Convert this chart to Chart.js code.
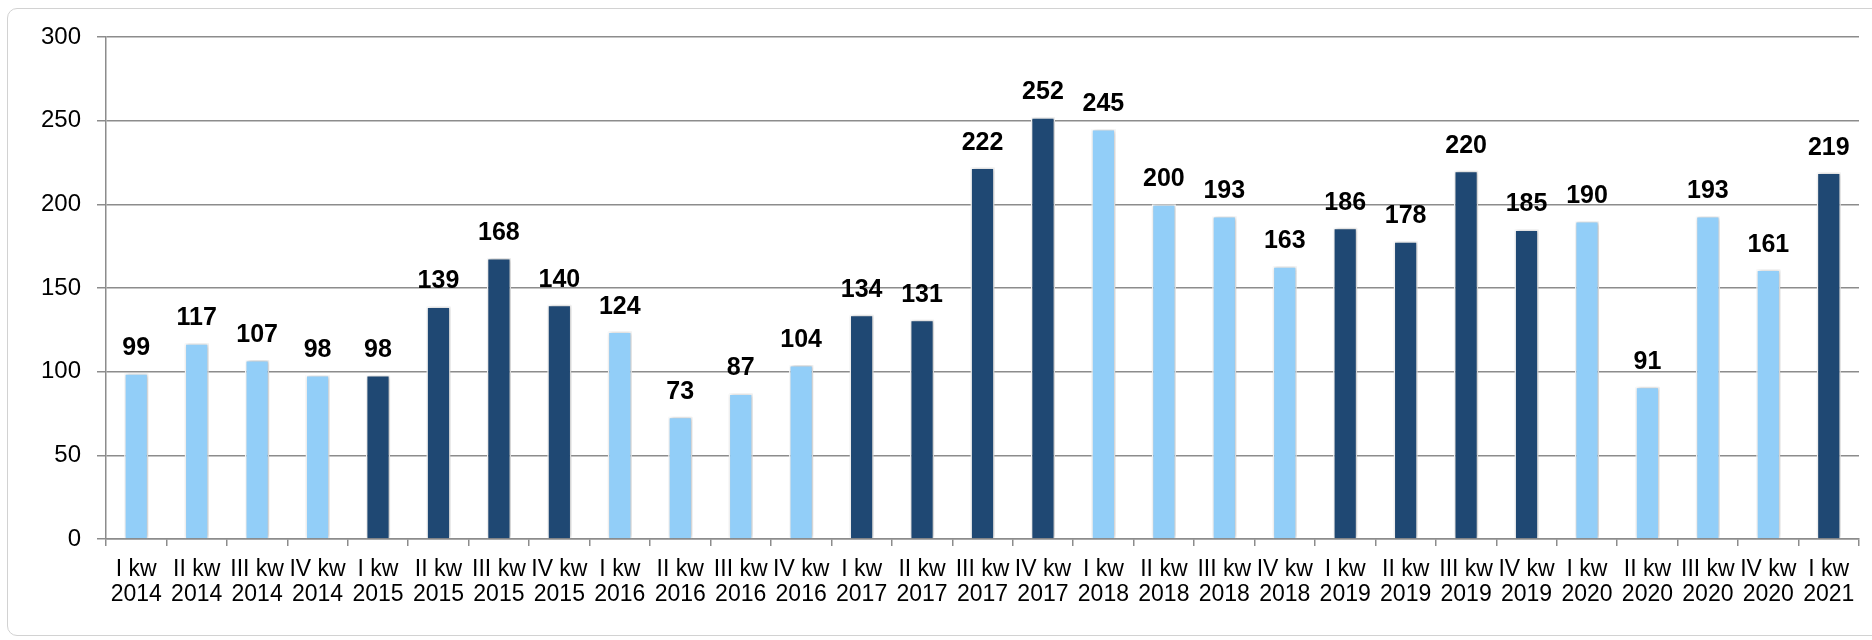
<!DOCTYPE html>
<html>
<head>
<meta charset="utf-8">
<script src="https://cdn.jsdelivr.net/npm/chart.js@4"></script>
<style>
  html, body { margin: 0; padding: 0; background: #fff; overflow: hidden; }
  #wrap { position: relative; width: 1872px; height: 640px; }
  #frame { position: absolute; left: 7px; top: 8px; width: 1890px; height: 628px; border: 1.5px solid #d2d2d2; border-radius: 10px; box-sizing: border-box; }
  canvas { position: absolute; left: 0; top: 0; }
</style>
</head>
<body>
<div id="wrap">
  <div id="frame"></div>
  <canvas id="c" width="1872" height="640"></canvas>
</div>
<script>
const quarters = ['I kw','II kw','III kw','IV kw','I kw','II kw','III kw','IV kw','I kw','II kw','III kw','IV kw','I kw','II kw','III kw','IV kw','I kw','II kw','III kw','IV kw','I kw','II kw','III kw','IV kw','I kw','II kw','III kw','IV kw','I kw'];
const years = ['2014','2014','2014','2014','2015','2015','2015','2015','2016','2016','2016','2016','2017','2017','2017','2017','2018','2018','2018','2018','2019','2019','2019','2019','2020','2020','2020','2020','2021'];
const values = [99,117,107,98,98,139,168,140,124,73,87,104,134,131,222,252,245,200,193,163,186,178,220,185,190,91,193,161,219];
const yTicks = [0,50,100,150,200,250,300];

const lightBlue = '#92CEF8';
const darkBlue = '#1F4873';
const barColors = years.map(y => (parseInt(y) % 2 === 0) ? lightBlue : darkBlue);
const labels = quarters.map((q, i) => [q, years[i]]);

const shadowPlugin = {
  id: 'shadow',
  beforeDatasetsDraw(chart) {
    const ctx = chart.ctx;
    ctx.save();
    ctx.shadowColor = 'rgba(0,0,0,0.28)';
    ctx.shadowBlur = 4;
    ctx.shadowOffsetX = 1;
    ctx.shadowOffsetY = 0;
  },
  afterDatasetsDraw(chart) {
    chart.ctx.restore();
  }
};

const labelPlugin = {
  id: 'valueLabels',
  afterDatasetsDraw(chart) {
    const ctx = chart.ctx;
    const meta = chart.getDatasetMeta(0);
    ctx.save();
    ctx.font = 'bold 25px "Liberation Sans", Arial, sans-serif';
    ctx.fillStyle = '#000';
    ctx.textAlign = 'center';
    ctx.textBaseline = 'alphabetic';
    meta.data.forEach((bar, i) => {
      ctx.fillText(String(values[i]), bar.x, bar.y - 18);
    });
    ctx.restore();
  }
};

new Chart(document.getElementById('c'), {
  type: 'bar',
  data: {
    labels: labels,
    datasets: [{
      data: values,
      backgroundColor: barColors,
      borderColor: '#ffffff',
      borderWidth: 1.5,
      barPercentage: 0.4,
      categoryPercentage: 1.0
    }]
  },
  options: {
    responsive: false,
    animation: false,
    layout: { padding: { left: 0, top: 37, right: 13, bottom: 0 } },
    plugins: { legend: { display: false }, tooltip: { enabled: false } },
    scales: {
      y: {
        min: 0, max: 300,
        afterFit(scale) { scale.width = 106; },
        afterBuildTicks(scale) { scale.ticks = yTicks.map(v => ({ value: v })); },
        ticks: {
          color: '#000',
          font: { family: '"Liberation Sans", Arial, sans-serif', size: 24 },
          padding: 16
        },
        grid: { color: '#8c8c8c', lineWidth: 1.5, tickLength: 9 },
        border: { color: '#8c8c8c', width: 1.5 }
      },
      x: {
        afterFit(scale) { scale.height = 101; },
        ticks: {
          color: '#000',
          autoSkip: false,
          maxRotation: 0,
          minRotation: 0,
          padding: 11,
          font: { family: '"Liberation Sans", Arial, sans-serif', size: 23, lineHeight: 1.1 }
        },
        grid: { offset: true, drawOnChartArea: false, color: '#8c8c8c', lineWidth: 1.5, tickLength: 7 },
        border: { color: '#8c8c8c', width: 1.5 }
      }
    }
  },
  plugins: [shadowPlugin, labelPlugin]
});
</script>
</body>
</html>
